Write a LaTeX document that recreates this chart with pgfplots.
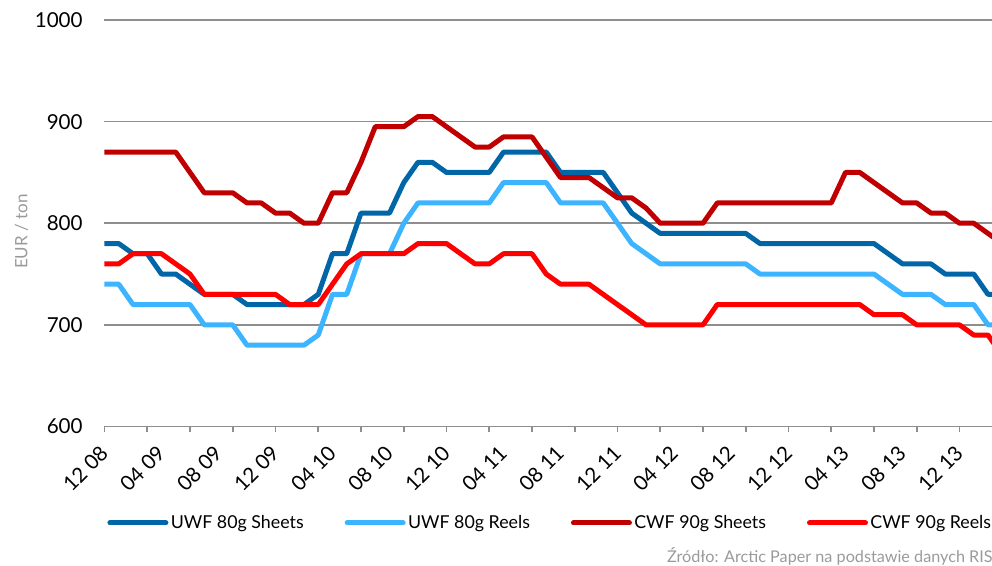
\documentclass[border=0pt]{standalone}
\usepackage{fontspec}
\setmainfont{Lato}
\usepackage{pgfplots}
\usepackage{pgfplotstable}
\pgfplotsset{compat=1.18}

\definecolor{uwfsheets}{HTML}{0066A8}
\definecolor{uwfreels}{HTML}{3DB4FF}
\definecolor{cwfsheets}{HTML}{C00000}
\definecolor{cwfreels}{HTML}{FF0000}
\definecolor{gridgray}{HTML}{8E8E8E}
\definecolor{labelgray}{HTML}{9A9A9A}

% month index (0 = 12/2008), EUR/ton
\pgfplotstableread{
i uwfs uwfr cwfs cwfr
0 780 740 870 760
1 780 740 870 760
2 770 720 870 770
3 770 720 870 770
4 750 720 870 770
5 750 720 870 760
6 740 720 850 750
7 730 700 830 730
8 730 700 830 730
9 730 700 830 730
10 720 680 820 730
11 720 680 820 730
12 720 680 810 730
13 720 680 810 720
14 720 680 800 720
15 730 690 800 720
16 770 730 830 740
17 770 730 830 760
18 810 770 860 770
19 810 770 895 770
20 810 770 895 770
21 840 800 895 770
22 860 820 905 780
23 860 820 905 780
24 850 820 895 780
25 850 820 885 770
26 850 820 875 760
27 850 820 875 760
28 870 840 885 770
29 870 840 885 770
30 870 840 885 770
31 870 840 865 750
32 850 820 845 740
33 850 820 845 740
34 850 820 845 740
35 850 820 835 730
36 830 800 825 720
37 810 780 825 710
38 800 770 815 700
39 790 760 800 700
40 790 760 800 700
41 790 760 800 700
42 790 760 800 700
43 790 760 820 720
44 790 760 820 720
45 790 760 820 720
46 780 750 820 720
47 780 750 820 720
48 780 750 820 720
49 780 750 820 720
50 780 750 820 720
51 780 750 820 720
52 780 750 850 720
53 780 750 850 720
54 780 750 840 710
55 770 740 830 710
56 760 730 820 710
57 760 730 820 700
58 760 730 810 700
59 750 720 810 700
60 750 720 800 700
61 750 720 800 690
62 730 700 790 690
63 730 700 780 670
}\prices

\begin{document}
\begin{tikzpicture}
\begin{axis}[
  at={(52.25pt,-213.25pt)}, anchor=south west,
  scale only axis, width=443.75pt, height=203.25pt,
  xmin=0, xmax=62.28, ymin=600, ymax=1000,
  ytick={600,700,800,900,1000},
  xtick={0,4,...,60},
  xticklabels={12 08,04 09,08 09,12 09,04 10,08 10,12 10,04 11,08 11,12 11,04 12,08 12,12 12,04 13,08 13,12 13},
  minor xtick={0,3,...,60},
  major tick length=0pt, minor tick length=2.85pt,
  tick align=outside, tick pos=left,
  tick style={color=gridgray, line width=0.8pt},
  axis line style={draw=none},
  ymajorgrids, grid style={color=gridgray, line width=0.8pt},
  /pgf/number format/assume math mode=true,
  /pgf/number format/1000 sep={},
  yticklabel style={font=\fontsize{10.3}{12}\selectfont, anchor=east, inner sep=0pt, xshift=-10.75pt},
  xticklabel style={font=\fontsize{10.3}{12}\selectfont, rotate=45, anchor=east, inner sep=0pt},
  xticklabel shift=11.5pt,
  legend style={at={(0,0)}, anchor=west, xshift=1.25pt, yshift=-48.25pt,
    draw=none, fill=none, inner sep=0pt, font=\fontsize{8.9}{10}\selectfont,
    nodes={inner xsep=1.2pt},
    legend columns=4,
    /tikz/every odd column/.append style={column sep=0pt},
    /tikz/every even column/.append style={column sep=19.3pt}},
  legend cell align=left,
  legend image code/.code={\draw[#1, line cap=round] (0pt,0pt) -- (28pt,0pt);},
  every axis plot/.append style={line width=2.5pt, line join=round},
]
\addplot[color=uwfsheets] table[x=i, y=uwfs] {\prices};
\addlegendentry{UWF 80g Sheets}
\addplot[color=uwfreels] table[x=i, y=uwfr] {\prices};
\addlegendentry{UWF 80g Reels}
\addplot[color=cwfsheets] table[x=i, y=cwfs] {\prices};
\addlegendentry{CWF 90g Sheets}
\addplot[color=cwfreels] table[x=i, y=cwfr] {\prices};
\addlegendentry{CWF 90g Reels}
\end{axis}
\node[rotate=90, text=labelgray, font=\fontsize{8.5}{10}\selectfont] at (10.8pt,-115.8pt) {EUR / ton};
\node[anchor=base west, inner sep=0pt, text=labelgray, font=\fontsize{8.1}{9}\selectfont] at (333.3pt,-281.3pt) {Źródło: Arctic Paper na podstawie danych RISI};
\pgfresetboundingbox
\useasboundingbox (0pt,0pt) rectangle (496pt,-283pt);
\end{tikzpicture}
\end{document}
